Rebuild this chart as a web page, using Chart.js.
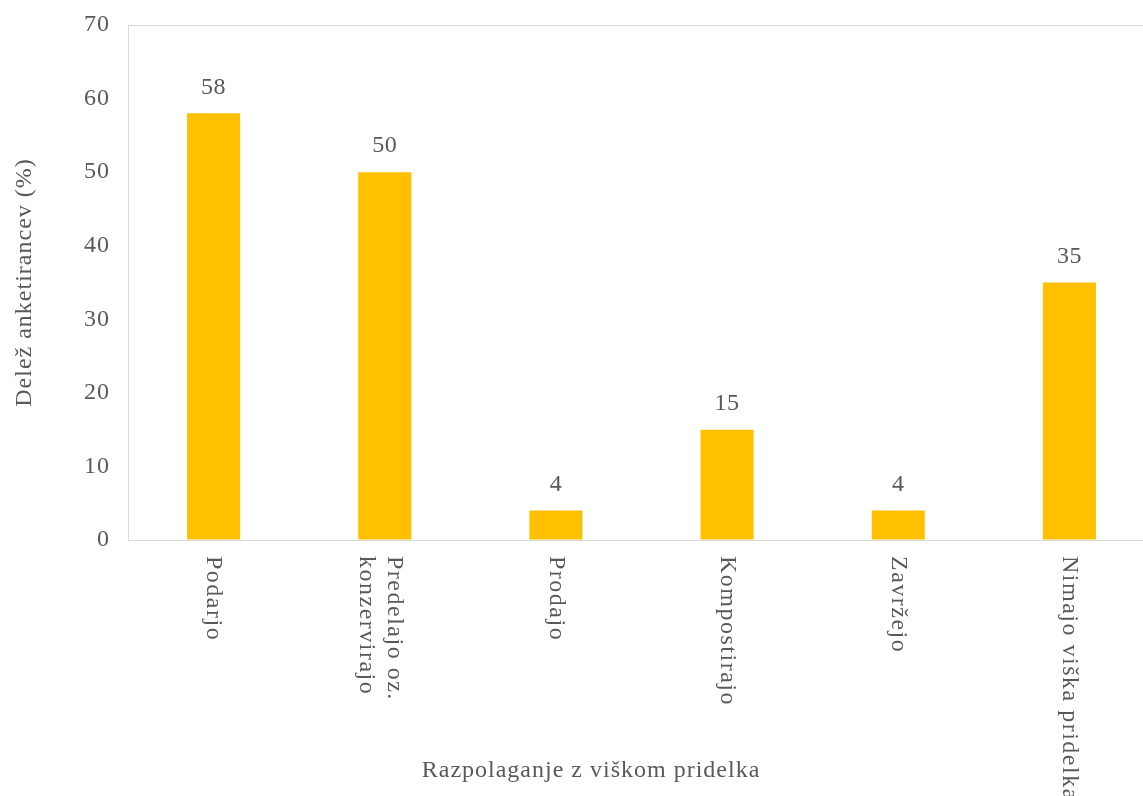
<!DOCTYPE html>
<html>
<head>
<meta charset="utf-8">
<script src="https://cdn.jsdelivr.net/npm/chart.js@4/dist/chart.umd.min.js"></script>
<style>
  html, body { margin: 0; padding: 0; background: #fff; overflow: hidden; }
  canvas { display: block; }
</style>
</head>
<body>
<canvas id="chartPridelek" width="1160" height="796"></canvas>
<script>
// podatki
const kategorije = [['Podarjo'], ['Predelajo oz.', 'konzervirajo'], ['Prodajo'], ['Kompostirajo'], ['Zavržejo'], ['Nimajo viška pridelka']];
const delezi = [58, 50, 4, 15, 4, 35];
const yMin = 0;
const yMax = 70;
const yKorak = 10;
const naslovY = 'Delež anketirancev (%)';
const naslovX = 'Razpolaganje z viškom pridelka';

const siva = '#595959';
const crta = '#d9d9d9';
const pisava = '"Liberation Serif", "Times New Roman", serif';

// malo razmaknjene črke, kot v originalu
const razmik = {
  id: 'razmik',
  beforeDraw(chart) { chart.ctx.letterSpacing = '1px'; }
};

// rotirane oznake kategorij, vrednosti nad stolpci in naslov osi x
const oznake = {
  id: 'oznake',
  afterDatasetsDraw(chart) {
    const { ctx, scales } = chart;
    const meta = chart.getDatasetMeta(0);
    ctx.save();
    ctx.fillStyle = siva;
    ctx.font = '24px ' + pisava;

    ctx.letterSpacing = '0.5px';
    ctx.textAlign = 'center';
    ctx.textBaseline = 'bottom';
    meta.data.forEach((bar, i) => ctx.fillText(String(delezi[i]), bar.x, bar.y - 14));

    ctx.textAlign = 'left';
    ctx.textBaseline = 'middle';
    ctx.letterSpacing = '1.5px';
    kategorije.forEach((vrstice, i) => {
      const x = scales.x.getPixelForTick(i);
      ctx.save();
      ctx.translate(x - (vrstice.length - 1) * 4, scales.x.top + 16);
      ctx.rotate(Math.PI / 2);
      vrstice.forEach((t, j) => {
        ctx.fillText(t, 0, (j - (vrstice.length - 1) / 2) * 28);
      });
      ctx.restore();
    });

    ctx.letterSpacing = '1px';
    ctx.textAlign = 'center';
    ctx.fillText(naslovX, chart.width / 2 + 11, chart.height - 25);
    ctx.restore();
  }
};

new Chart(document.getElementById('chartPridelek'), {
  type: 'bar',
  data: {
    labels: kategorije,
    datasets: [{
      data: delezi,
      backgroundColor: '#FFC000',
      borderWidth: 0,
      barPercentage: 0.31,
      categoryPercentage: 1
    }]
  },
  options: {
    responsive: false,
    animation: false,
    layout: { padding: { top: 25, right: 5, bottom: 0, left: 0 } },
    plugins: {
      legend: { display: false },
      tooltip: { enabled: false }
    },
    scales: {
      x: {
        grid: { display: false },
        border: { display: true, color: crta, width: 1 },
        ticks: { display: false },
        afterFit: s => { s.height = 256; }
      },
      y: {
        min: yMin,
        max: yMax,
        grid: {
          drawTicks: false,
          color: c => (c.tick && c.tick.value === yMax ? crta : 'rgba(0,0,0,0)')
        },
        border: { display: true, color: crta, width: 1 },
        ticks: {
          stepSize: yKorak,
          padding: 18,
          color: siva,
          font: { family: pisava, size: 24 }
        },
        title: {
          display: true,
          text: naslovY,
          color: siva,
          padding: { top: 10, bottom: 0 },
          font: { family: pisava, size: 24 }
        },
        afterFit: s => {
          s.width = 128;
          s.paddingTop = 0;
          s.paddingBottom = 0;
        }
      }
    }
  },
  plugins: [razmik, oznake]
});
</script>
</body>
</html>
